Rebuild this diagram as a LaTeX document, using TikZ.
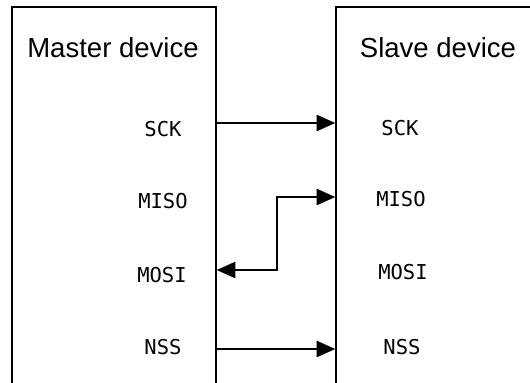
\documentclass[tikz,border=0pt]{standalone}
\usepackage{fontspec}
\setmainfont{Liberation Sans}
\newfontfamily\pinfont{DejaVu Sans Mono}
\usetikzlibrary{arrows.meta,positioning}

\begin{document}
\begin{tikzpicture}[
  x=0.3mm, y=-0.3mm,
  devbox/.style={draw, line width=1.2pt, minimum width=61.2mm, minimum height=117.9mm, inner sep=0pt},
  title/.style={font=\fontsize{23.5}{26}\selectfont, inner sep=0pt},
  pin/.style={font=\pinfont\fontsize{17.5}{20}\selectfont, inner sep=0pt},
  arr/.style={-{Triangle[length=16pt, width=14pt]}, line width=1.3pt},
  dblarr/.style={{Triangle[length=16pt, width=14pt]}-{Triangle[length=16pt, width=14pt]}, line width=1.3pt},
]
  \useasboundingbox (0,0) rectangle (530,383);
  \clip (0,0) rectangle (530,383);

  % Devices
  \node[devbox] (master) at (114,203.5) {};
  \node[devbox] (slave)  at (438,203.5) {};
  \node[title] (mtitle) at (113,48) {Master device};
  \node[title] (stitle) at (438,48) {Slave device};

  % Signal rows
  \coordinate (sck)  at (0,123);
  \coordinate (miso) at (0,197);
  \coordinate (mosi) at (0,270);
  \coordinate (nss)  at (0,349);
  \coordinate (bend) at (277,0);

  % Pin names
  \node[pin] (msck)  at (163,129) {SCK};
  \node[pin] (mmiso) at (163,201) {MISO};
  \node[pin] (mmosi) at (162,275) {MOSI};
  \node[pin] (mnss)  at (163,347) {NSS};
  \node[pin] (ssck)  at (400,128) {SCK};
  \node[pin] (smiso) at (401,199) {MISO};
  \node[pin] (smosi) at (403,272) {MOSI};
  \node[pin] (snss)  at (402,347) {NSS};

  % Connections
  \draw[arr] (master.east |- sck) -- (slave.west |- sck);
  \draw[dblarr] (master.east |- mosi) -| (bend |- miso) -- (slave.west |- miso);
  \draw[arr] (master.east |- nss) -- (slave.west |- nss);
\end{tikzpicture}
\end{document}
